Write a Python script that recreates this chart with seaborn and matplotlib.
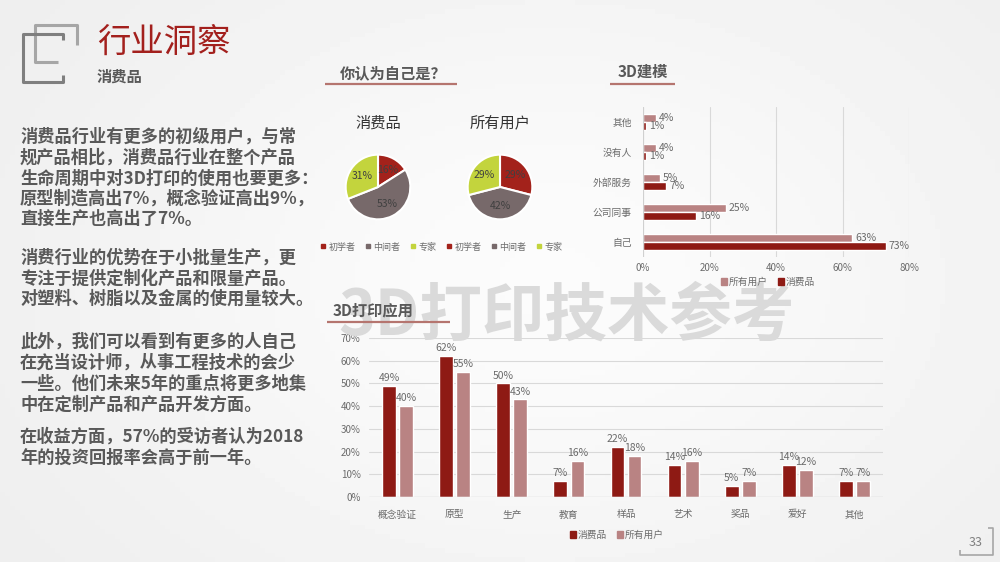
import matplotlib
matplotlib.use("Agg")
import matplotlib.pyplot as plt
import matplotlib.patches as mpatches
from matplotlib.lines import Line2D
import seaborn as sns
import pandas as pd
import numpy as np

# ---- data ----
pie_labels = ["初学者", "中间者", "专家"]
pie_consumer = [16, 53, 31]
pie_all = [29, 42, 29]

model_cats = ["其他", "没有人", "外部服务", "公司同事", "自己"]
model_all = [4, 4, 5, 25, 63]
model_consumer = [1, 1, 7, 16, 73]

app_cats = ["概念验证", "原型", "生产", "教育", "样品", "艺术", "奖品", "爱好", "其他"]
app_consumer = [49, 62, 50, 7, 22, 14, 5, 14, 7]
app_all = [40, 55, 43, 16, 18, 16, 7, 12, 7]

body_lines = [
    ("消费品行业有更多的初级用户，与常", 137),
    ("规产品相比，消费品行业在整个产品", 158),
    ("生命周期中对3D打印的使用也要更多：", 179),
    ("原型制造高出7%，概念验证高出9%，", 199),
    ("直接生产也高出了7%。", 219),
    ("消费行业的优势在于小批量生产，更", 258),
    ("专注于提供定制化产品和限量产品。", 279),
    ("对塑料、树脂以及金属的使用量较大。", 299),
    ("此外，我们可以看到有更多的人自己", 342),
    ("在充当设计师，从事工程技术的会少", 363),
    ("一些。他们未来5年的重点将更多地集", 384),
    ("中在定制产品和产品开发方面。", 405),
    ("在收益方面，57%的受访者认为2018", 437),
    ("年的投资回报率会高于前一年。", 458),
]

DARK = "#8e1a14"
LIGHT = "#b98383"
PIE_COLORS = ["#a3221b", "#77696a", "#c3d43d"]
TXT = "#595959"
TICK = "#6b6b6b"

sns.set_theme(style="white")
plt.rcParams['font.family'] = ['Noto Sans CJK SC', 'DejaVu Sans']

W, H = 1000, 562
fig = plt.figure(figsize=(10, 5.62), dpi=100)
fig.patch.set_facecolor("#f4f4f4")


def fx(x):
    return x / W


def fy(y):
    return 1 - y / H


# background gradient
bg = fig.add_axes([0, 0, 1, 1], zorder=-10)
xx = np.linspace(0, 1, 200)
yy = np.linspace(0, 1, 120)
X, Y = np.meshgrid(xx, yy)
grad = 0.925 + 0.06 * np.exp(-((X - 0.55) ** 2 / 0.25 + (Y - 0.5) ** 2 / 0.4))
bg.imshow(grad, cmap="gray", vmin=0, vmax=1, aspect="auto", extent=[0, 1, 0, 1])
bg.axis("off")

# logo brackets
def seg(pts, color, lw=2.2):
    xs = [fx(p[0]) for p in pts]
    ys = [fy(p[1]) for p in pts]
    fig.add_artist(Line2D(xs, ys, color=color, lw=lw, solid_capstyle="butt"))

seg([(77, 45), (77, 25), (35, 25), (35, 62), (58, 62)], "#a6a6a6")
seg([(63, 40), (63, 34), (23, 34), (23, 82), (63, 82), (63, 75)], "#7f7f7f")

fig.text(fx(97), fy(42), "行业洞察", fontsize=24, color="#a3201d", va="center", ha="left")
fig.text(fx(97), fy(77), "消费品", fontsize=11, color=TXT, va="center", ha="left", fontweight="bold")

for line, y in body_lines:
    fig.text(fx(20), fy(y), line, fontsize=12.4, color=TXT, va="center", ha="left", fontweight="bold")

# watermark
fig.text(fx(567), fy(316), "3D打印技术参考", fontsize=45, color="#dadada", va="center", ha="center",
         fontweight="bold", zorder=0)

# section headers
UL = "#b5756f"
for txt, x, y, x0, x1, uy in [("你认为自己是？", 340, 73, 325, 457, 84),
                               ("3D建模", 618, 72, 610, 675, 84),
                               ("3D打印应用", 333, 310, 327, 450, 322)]:
    fig.text(fx(x), fy(y), txt, fontsize=11, color=TXT, va="center", ha="left", fontweight="bold")
    seg([(x0, uy), (x1, uy)], UL, lw=1.6)

# pies
for vals, cx, title in [(pie_consumer, 378, "消费品"), (pie_all, 500, "所有用户")]:
    r = 33
    cy = 187
    pax = fig.add_axes([fx(cx - r), fy(cy + r), 2 * r / W, 2 * r / H])
    pax.pie(vals, colors=PIE_COLORS, startangle=90, counterclock=False,
            autopct=lambda p: f"{p:.0f}%", pctdistance=0.6,
            wedgeprops=dict(edgecolor="white", linewidth=1.5),
            textprops=dict(fontsize=7.5, color="#404040"))
    pax.set_xlim(-1.02, 1.02)
    pax.set_ylim(-1.02, 1.02)
    fig.text(fx(cx), fy(123), title, fontsize=11, color="#333333", ha="center", va="center")

pie_handles = []
for _ in range(2):
    for lab, c in zip(pie_labels, PIE_COLORS):
        pie_handles.append(Line2D([], [], marker="s", ls="", color=c, markersize=3, label=lab))
fig.legend(handles=pie_handles, loc="center", bbox_to_anchor=(fx(441), fy(247)), ncol=6,
           frameon=False, fontsize=6.5, handletextpad=0.2, columnspacing=1.0, labelcolor=TICK,
           handlelength=0.8)

# 3D modelling horizontal bars
df_m = pd.DataFrame({
    "cat": model_cats * 2,
    "val": model_all + model_consumer,
    "series": ["所有用户"] * len(model_cats) + ["消费品"] * len(model_cats),
})
axm = fig.add_axes([fx(643), fy(257), (909 - 643) / W, 150 / H])
axm.patch.set_alpha(0)
sns.barplot(data=df_m, y="cat", x="val", hue="series", hue_order=["所有用户", "消费品"],
            order=model_cats, palette=[LIGHT, DARK], width=0.55, orient="h", ax=axm,
            legend=False, saturation=1)
axm.set_xlim(0, 80)
axm.set_xticks([0, 20, 40, 60, 80])
axm.set_xticklabels([f"{t}%" for t in [0, 20, 40, 60, 80]])
axm.set_xlabel("")
axm.set_ylabel("")
axm.grid(axis="x", color="#d9d9d9", lw=0.8)
axm.set_axisbelow(True)
for s in axm.spines.values():
    s.set_visible(False)
axm.axvline(0, color="#d0d0d0", lw=0.8)
axm.tick_params(axis="both", length=0, labelsize=7, labelcolor=TICK)
axm.tick_params(axis="x", pad=4)
axm.tick_params(axis="y", pad=8)
for cont in axm.containers:
    for p in cont:
        w = p.get_width()
        yc = p.get_y() + p.get_height() / 2
        axm.annotate(f"{w:g}%", (w, yc), xytext=(2, 0), textcoords="offset points",
                     fontsize=7.5, color=TICK, va="center", ha="left")
fig.legend(handles=[mpatches.Patch(color=LIGHT, label="所有用户"), mpatches.Patch(color=DARK, label="消费品")],
           loc="center", bbox_to_anchor=(fx(768), fy(282)), ncol=2, frameon=False, fontsize=7,
           handlelength=0.6, handleheight=0.6, handletextpad=0.2, columnspacing=1.0, labelcolor=TICK)

# 3D printing applications
df_a = pd.DataFrame({
    "cat": app_cats * 2,
    "val": app_consumer + app_all,
    "series": ["消费品"] * len(app_cats) + ["所有用户"] * len(app_cats),
})
axa = fig.add_axes([fx(369), fy(497), (883 - 369) / W, (497 - 338) / H])
axa.patch.set_alpha(0)
sns.barplot(data=df_a, x="cat", y="val", hue="series", hue_order=["消费品", "所有用户"],
            order=app_cats, palette=[DARK, LIGHT], width=0.6, gap=0.2, ax=axa,
            legend=False, saturation=1)
axa.set_xlim(-0.5, len(app_cats) - 0.5)
axa.set_ylim(0, 70)
axa.set_yticks(range(0, 71, 10))
axa.set_yticklabels([f"{t}%" for t in range(0, 71, 10)])
axa.set_xlabel("")
axa.set_ylabel("")
axa.grid(axis="y", color="#d9d9d9", lw=0.8)
axa.set_axisbelow(True)
for s in axa.spines.values():
    s.set_visible(False)
axa.axhline(0, color="#cfcfcf", lw=0.9)
axa.tick_params(axis="both", length=0, labelsize=7, labelcolor=TICK)
axa.tick_params(axis="x", pad=9)
axa.tick_params(axis="y", pad=6)
for cont in axa.containers:
    axa.bar_label(cont, fmt="%g%%", fontsize=7.5, color=TICK, padding=2)
fig.legend(handles=[mpatches.Patch(color=DARK, label="消费品"), mpatches.Patch(color=LIGHT, label="所有用户")],
           loc="center", bbox_to_anchor=(fx(617), fy(535)), ncol=2, frameon=False, fontsize=7,
           handlelength=0.6, handleheight=0.6, handletextpad=0.2, columnspacing=1.0, labelcolor=TICK)

# page number
fig.text(fx(976), fy(542), "33", fontsize=9, color="#7f7f7f", ha="center", va="center")
seg([(988, 528), (993, 528), (993, 555), (960, 555), (960, 550)], "#a6a6a6", lw=1.2)

fig.savefig("out.png", dpi=100, facecolor=fig.get_facecolor())
